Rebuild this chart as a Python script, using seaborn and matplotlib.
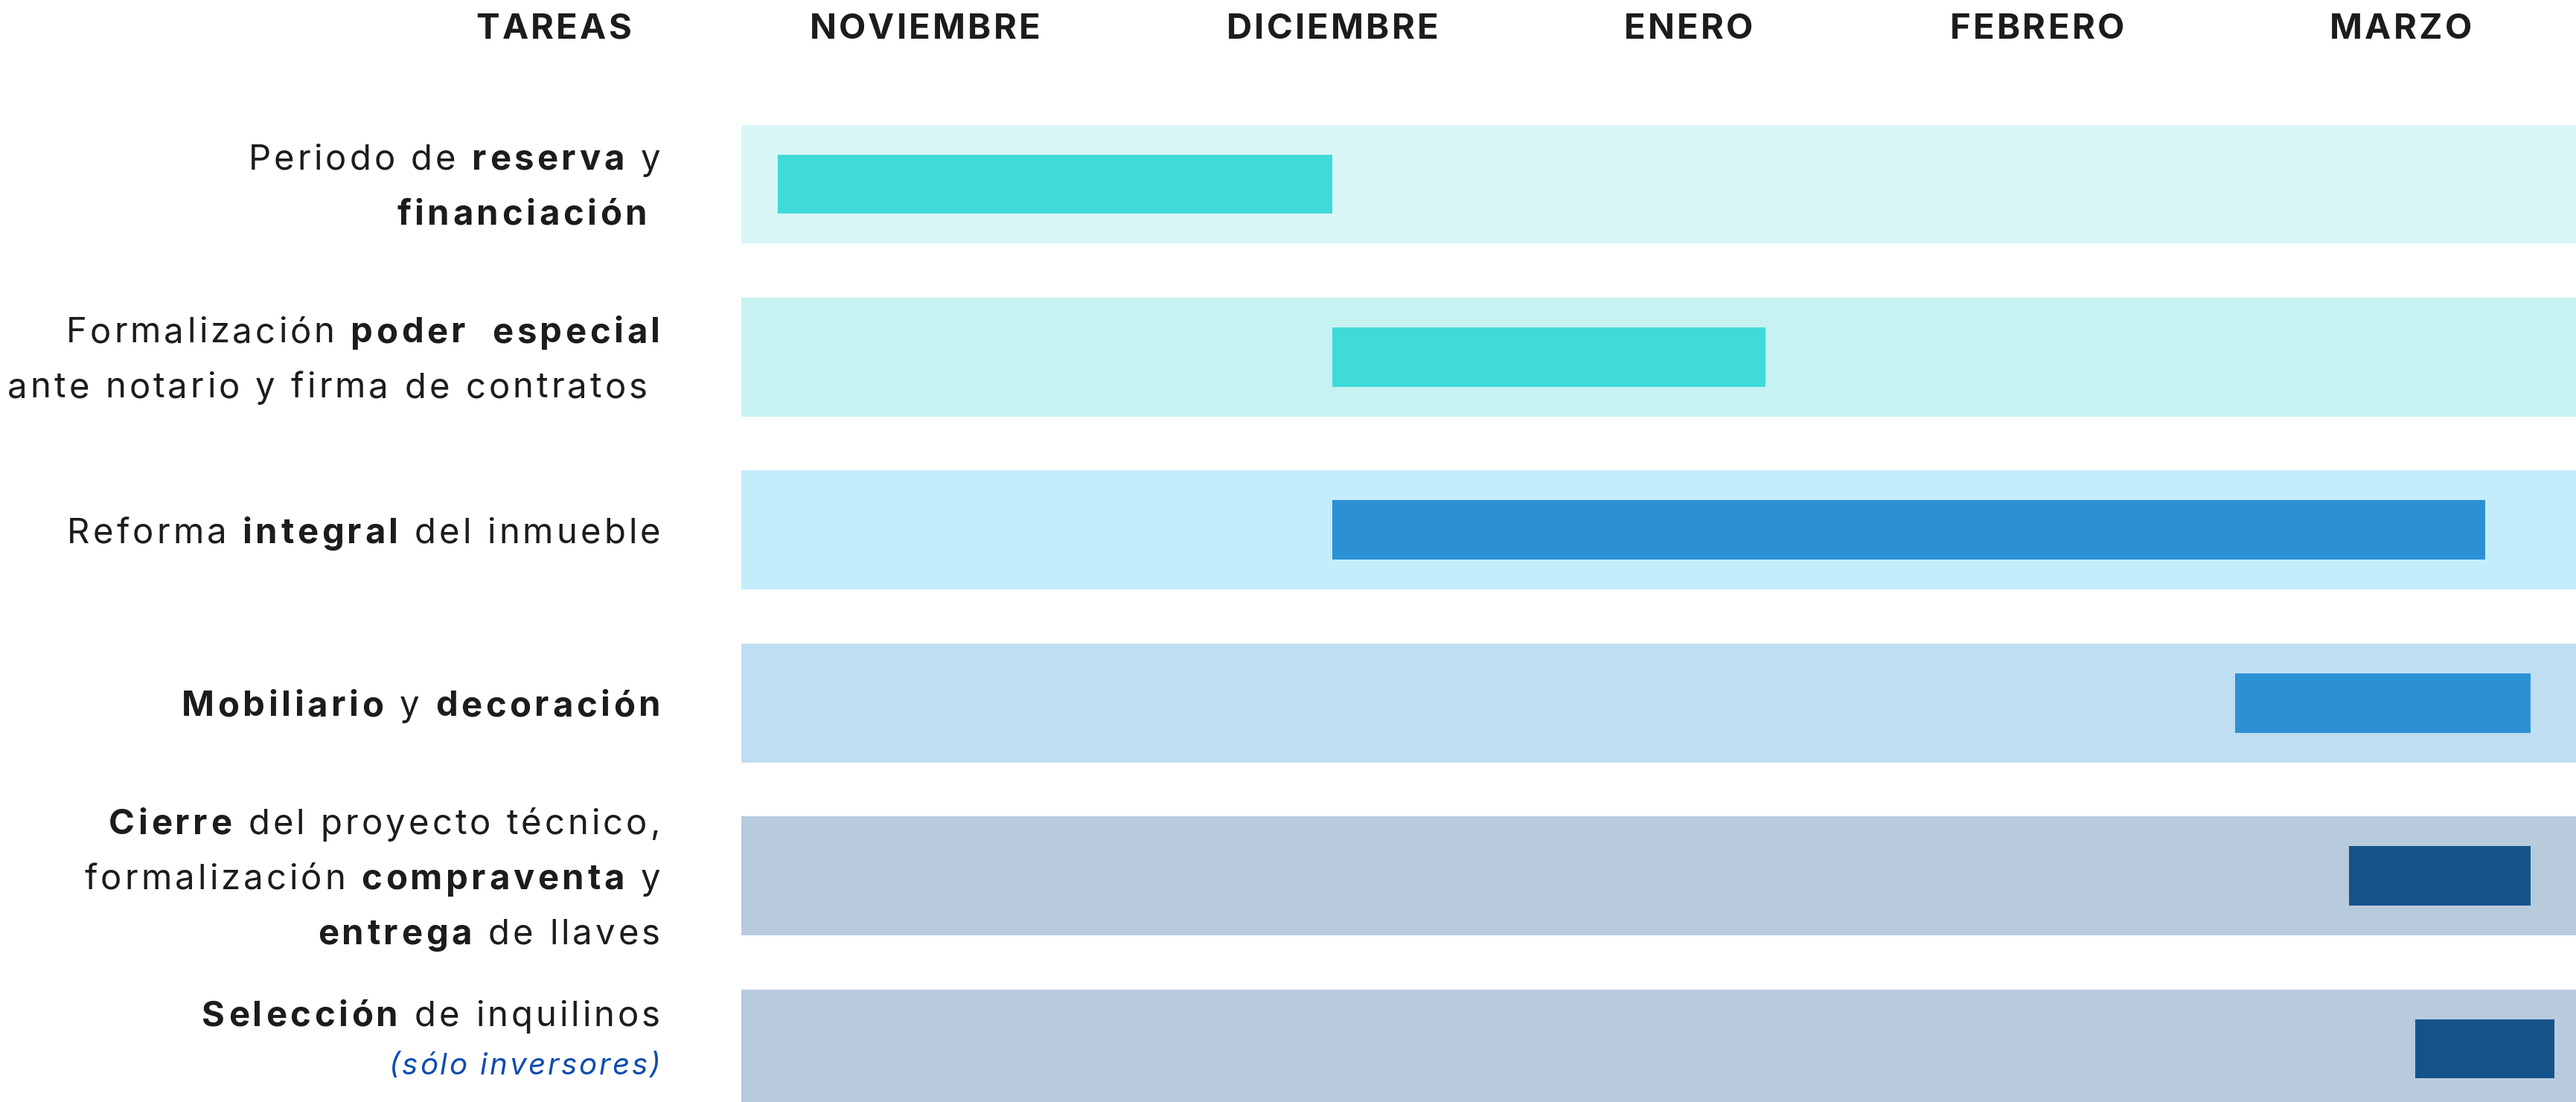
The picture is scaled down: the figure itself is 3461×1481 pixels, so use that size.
import numpy as np
import pandas as pd
import matplotlib.pyplot as plt
import matplotlib.transforms as mtransforms
import seaborn as sns

# Data: months counted from 1 November (0) to end of March (5)
tasks = ['reserva', 'poder', 'reforma', 'mobiliario', 'cierre', 'inquilinos']
start = [0.10, 1.61, 1.61, 4.07, 4.38, 4.56]
end = [1.61, 2.79, 4.75, 4.875, 4.875, 4.94]
months = ['NOVIEMBRE', 'DICIEMBRE', 'ENERO', 'FEBRERO', 'MARZO']
month_pos = [0.50, 1.61, 2.58, 3.53, 4.52]
band_colors = ['#DAF7F7', '#C6F2F2', '#C4EDFB', '#BFDEF1', '#B8CBDC', '#B8CBDC']
bar_colors = ['#3FDBD8', '#3FDBD8', '#2C90D4', '#2C90D4', '#14538A', '#14538A']

# Task labels: lines of (text, style) with n = normal, b = bold, i = italic note
labels = [
    [[('Periodo de ', 'n'), ('reserva', 'b'), (' y', 'n')],
     [('financiación', 'b'), (' ', 'n')]],
    [[('Formalización ', 'n'), ('poder  especial', 'b')],
     [('ante notario y firma de contratos ', 'n')]],
    [[('Reforma ', 'n'), ('integral', 'b'), (' del inmueble', 'n')]],
    [[('Mobiliario', 'b'), (' y ', 'n'), ('decoración', 'b')]],
    [[('Cierre', 'b'), (' del proyecto técnico,', 'n')],
     [('formalización ', 'n'), ('compraventa', 'b'), (' y', 'n')],
     [('entrega', 'b'), (' de llaves', 'n')]],
    [[('Selección', 'b'), (' de inquilinos', 'n')],
     [('(sólo inversores)', 'i')]],
]

df = pd.DataFrame({'task': tasks, 'start': start, 'end': end})
df['dur'] = df['end'] - df['start']
df['full'] = 5.0

sns.set_theme(style='white')
plt.rcParams['font.family'] = ['Inter', 'DejaVu Sans']

W, H = 3462, 1481
fig = plt.figure(figsize=(W / 100, H / 100), dpi=100)
ax = fig.add_axes([996 / W, 0, 1 - 996 / W, 1])

# background bands
sns.barplot(data=df, x='full', y='task', hue='task', palette=band_colors,
            width=0.688, saturation=1, legend=False, errorbar=None,
            linewidth=0, ax=ax)
n_band = len(ax.patches)

# task bars
sns.barplot(data=df, x='dur', y='task', left=df['start'].values, color=bar_colors[0],
            width=0.344, saturation=1, errorbar=None, linewidth=0, ax=ax)
for p, c in zip(ax.patches[n_band:], bar_colors):
    p.set_facecolor(c)

PX = 232.4  # pixels per row
Y0 = 247.5  # pixel centre of first row
ax.set_xlim(0, 5)
ax.set_ylim((H - Y0) / PX, -Y0 / PX)
ax.set_axis_off()

txt_color = '#1c1c1c'
FS = 34

renderer = fig.canvas.get_renderer()
styles = {
    'n': dict(fontsize=FS, fontweight='normal', color=txt_color),
    'b': dict(fontsize=FS, fontweight='bold', color=txt_color),
    'i': dict(fontsize=29, fontstyle='italic', color='#0E4DB0'),
    'h': dict(fontsize=FS, fontweight='bold', color=txt_color),
}
# letter spacing (pixels) of the original artwork
tracking = {'n': 4.1, 'b': 4.6, 'i': 2.8, 'h': 3.2}


def measure(s, kw):
    t = fig.text(0, 0, s, **kw)
    w = t.get_window_extent(renderer).width
    t.remove()
    return w


cache = {}


def glyph(c, st):
    # advance width and left bearing (relative to '|') of one character
    if (c, st) not in cache:
        kw = styles[st]
        bar_adv = measure('||', kw) - measure('|', kw)
        adv = measure('|' + c + '|', kw) - measure('||', kw)
        lsb = measure('|' + c, kw) - measure(c, kw) - bar_adv if c.strip() else 0
        cache[(c, st)] = (adv, lsb)
    return cache[(c, st)]


def line_width(segs):
    return sum(glyph(c, st)[0] + tracking[st] for s, st in segs for c in s) - tracking[segs[-1][1]]


def draw_line(x, y, segs, trans):
    for s, st in segs:
        for c in s:
            adv, lsb = glyph(c, st)
            if c.strip():
                ax.text(x + lsb, y, c, transform=trans, ha='left', va='baseline',
                        clip_on=False, **styles[st])
            x += adv + tracking[st]


trans = mtransforms.blended_transform_factory(mtransforms.IdentityTransform(), ax.transData)

# header
head_y = (52 - Y0) / PX
for m, xm in zip(['TAREAS'] + months, [(744 - 996) / 493.2] + month_pos):
    xc = ax.transData.transform((xm, 0))[0]
    segs = [(m, 'h')]
    draw_line(xc - line_width(segs) / 2, head_y, segs, trans)

# task labels, right aligned
right_px = 887
for i, lines in enumerate(labels):
    n = len(lines)
    gap, shift = (65, -16) if i == 5 else (74, 0)
    for k, segs in enumerate(lines):
        y = i + (17.5 + shift + (k - (n - 1) / 2) * gap) / PX
        draw_line(right_px - line_width(segs), y, segs, trans)

fig.savefig('out.png', dpi=100, facecolor='white')
